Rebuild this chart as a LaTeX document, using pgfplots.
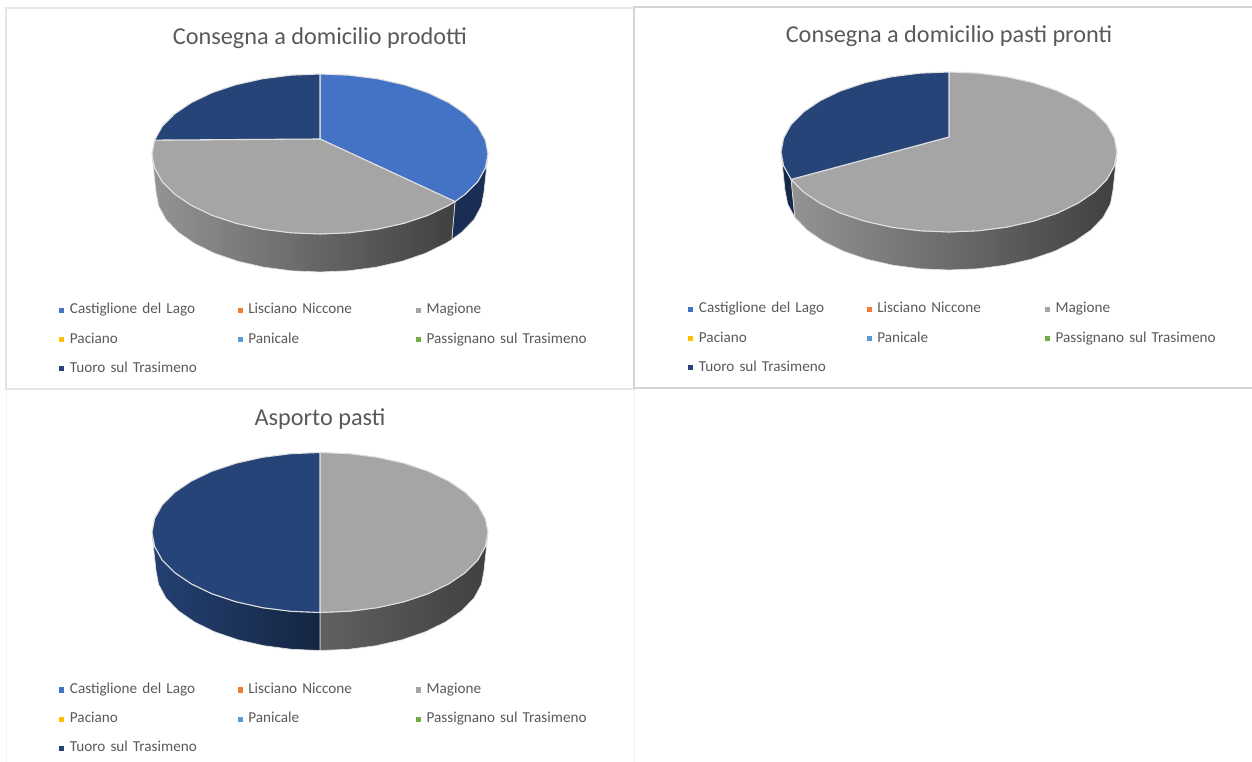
\documentclass[border=0pt]{standalone}
\usepackage{fontspec}
\setmainfont{Carlito}
\usepackage{pgfplots}
\pgfplotsset{compat=1.18}

\definecolor{cCast}{HTML}{4472C4}
\definecolor{cLisc}{HTML}{ED7D31}
\definecolor{cMag}{HTML}{A5A5A5}
\definecolor{cPac}{HTML}{FFC000}
\definecolor{cPan}{HTML}{5B9BD5}
\definecolor{cPass}{HTML}{70AD47}
\definecolor{cTuoro}{HTML}{264478}
\definecolor{txt}{HTML}{595959}
\definecolor{sliceline}{HTML}{E0E0E0}
\definecolor{castwall}{HTML}{1A2D55}

\pgfplotsset{
  top/.style={forget plot,draw=sliceline,line width=0.8pt,line join=round,fill=#1},
  wallgray/.style={forget plot,draw=sliceline,line width=0.5pt,left color=#1,right color=black!75},
  legend image code/.code={\fill[#1,draw=none] (0pt,-1.9pt) rectangle (3.8pt,1.9pt);},
  panel/.style={
    scale only axis,ticks=none,enlargelimits=false,
    title style={font=\fontsize{18.2}{21}\selectfont,text=txt,anchor=center,inner sep=0pt,yshift=0pt},
    legend columns=3,
    legend style={draw=none,fill=none,inner sep=0pt,at={(axis cs:-261,-150)},anchor=north west,
      row sep=12.5pt,font=\fontsize{11.4}{13}\selectfont,text=txt,
      nodes={inner sep=0pt,text height=7.2pt,text depth=2.2pt},
      /tikz/every even column/.append style={column sep=0pt,nodes={text width=125.75pt,align=left}},
      /tikz/every odd column/.append style={column sep=4.2pt}}
  }
}
\newcommand{\pieLegend}{%
  \addlegendimage{fill=cCast}\addlegendentry{Castiglione del Lago}
  \addlegendimage{fill=cLisc}\addlegendentry{Lisciano Niccone}
  \addlegendimage{fill=cMag}\addlegendentry{Magione}
  \addlegendimage{fill=cPac}\addlegendentry{Paciano}
  \addlegendimage{fill=cPan}\addlegendentry{Panicale}
  \addlegendimage{fill=cPass}\addlegendentry{Passignano sul Trasimeno}
  \addlegendimage{fill=cTuoro}\addlegendentry{Tuoro sul Trasimeno}
}

\begin{document}
\begin{tikzpicture}[x=1pt,y=1pt]
\useasboundingbox (0pt,0pt) rectangle (939pt,571.5pt);

% panel 3, faintest frame, goes first
\begin{axis}[panel,at={(4.5pt,-1.5pt)},anchor=south west,width=471pt,height=281.25pt,
  xmin=-314,xmax=314,ymin=-231.5,ymax=143.5,axis line style={color=black!5,line width=0.6pt},
  title={Asporto pasti},title style={at={(0.5,0.8983)}},legend style={at={(axis cs:-261,-151)}}]
\addplot[wallgray=black!62] coordinates {(0,-80) (29.2,-78.8) (57.5,-75.2) (84,-69.3) (108,-61.3) (128.7,-51.4) (145.5,-40) (157.9,-27.4) (165.4,-13.9) (168,0)
  (164,-38) (161.4,-51.9) (154.1,-65.4) (142,-78) (125.6,-89.4) (105.4,-99.3) (82,-107.3) (56.1,-113.2) (28.5,-116.8) (0,-118)} --cycle;
\addplot[forget plot,draw=sliceline,line width=0.5pt,left color=cTuoro!95!black,right color=cTuoro!55!black] coordinates {(-168,0) (-165.4,-13.9) (-157.9,-27.4) (-145.5,-40) (-128.7,-51.4) (-108,-61.3) (-84,-69.3) (-57.5,-75.2) (-29.2,-78.8) (0,-80)
  (0,-118) (-28.5,-116.8) (-56.1,-113.2) (-82,-107.3) (-105.4,-99.3) (-125.6,-89.4) (-142,-78) (-154.1,-65.4) (-161.4,-51.9) (-164,-38)} --cycle;
% Magione 50%
\addplot[top=cMag] coordinates {(0,80) (29.2,78.8) (57.5,75.2) (84,69.3) (108,61.3) (128.7,51.4) (145.5,40) (157.9,27.4) (165.4,13.9) (168,0)
  (165.4,-13.9) (157.9,-27.4) (145.5,-40) (128.7,-51.4) (108,-61.3) (84,-69.3) (57.5,-75.2) (29.2,-78.8) (0,-80)} --cycle;
% Tuoro 50%
\addplot[top=cTuoro] coordinates {(0,-80) (-29.2,-78.8) (-57.5,-75.2) (-84,-69.3) (-108,-61.3) (-128.7,-51.4) (-145.5,-40) (-157.9,-27.4) (-165.4,-13.9) (-168,0)
  (-165.4,13.9) (-157.9,27.4) (-145.5,40) (-128.7,51.4) (-108,61.3) (-84,69.3) (-57.5,75.2) (-29.2,78.8) (0,80)} --cycle;
\pieLegend
\end{axis}

% panel 1
\begin{axis}[panel,at={(4.5pt,279.75pt)},anchor=south west,width=471pt,height=285.75pt,
  xmin=-314,xmax=314,ymin=-235,ymax=146,axis line style={color=black!10,line width=0.8pt},
  title={Consegna a domicilio prodotti},title style={at={(0.5,0.9003)}}]
\addplot[forget plot,draw=sliceline,line width=0.5pt,fill=castwall] coordinates {(168,0) (165.4,-13.9) (157.9,-27.4) (145.5,-40) (135,-47.6)
  (131.8,-85.6) (142,-78) (154.1,-65.4) (161.4,-51.9) (164,-38)} --cycle;
\addplot[wallgray=black!42] coordinates {(-168,0) (-165.4,-13.9) (-157.9,-27.4) (-145.5,-40) (-128.7,-51.4) (-108,-61.3) (-84,-69.3) (-57.5,-75.2) (-29.2,-78.8) (0,-80)
  (29.2,-78.8) (57.5,-75.2) (84,-69.3) (108,-61.3) (128.7,-51.4) (135,-47.6)
  (131.8,-85.6) (125.6,-89.4) (105.4,-99.3) (82,-107.3) (56.1,-113.2) (28.5,-116.8) (0,-118)
  (-28.5,-116.8) (-56.1,-113.2) (-82,-107.3) (-105.4,-99.3) (-125.6,-89.4) (-142,-78) (-154.1,-65.4) (-161.4,-51.9) (-164,-38)} --cycle;
% Castiglione del Lago
\addplot[top=cCast] coordinates {(0,15) (0,80) (29.2,78.8) (57.5,75.2) (84,69.3) (108,61.3) (128.7,51.4) (145.5,40) (157.9,27.4) (165.4,13.9) (168,0)
  (165.4,-13.9) (157.9,-27.4) (145.5,-40) (135,-47.6)} --cycle;
% Magione
\addplot[top=cMag] coordinates {(0,15) (135,-47.6) (128.7,-51.4) (108,-61.3) (84,-69.3) (57.5,-75.2) (29.2,-78.8) (0,-80)
  (-29.2,-78.8) (-57.5,-75.2) (-84,-69.3) (-108,-61.3) (-128.7,-51.4) (-145.5,-40) (-157.9,-27.4) (-165.4,-13.9) (-168,0) (-165.4,13.9)} --cycle;
% Tuoro sul Trasimeno
\addplot[top=cTuoro] coordinates {(0,15) (-165.4,13.9) (-157.9,27.4) (-145.5,40) (-128.7,51.4) (-108,61.3) (-84,69.3) (-57.5,75.2) (-29.2,78.8) (0,80)} --cycle;
\pieLegend
\end{axis}

% panel 2
\begin{axis}[panel,at={(475.5pt,280.5pt)},anchor=south west,width=465pt,height=285.75pt,
  xmin=-315,xmax=305,ymin=-236,ymax=145,axis line style={color=black!17,line width=0.8pt},
  title={Consegna a domicilio pasti pronti},title style={at={(0.5081,0.9028)}},legend style={at={(axis cs:-261,-151)}}]
\addplot[forget plot,draw=sliceline,line width=0.5pt,fill=cTuoro!60!black] coordinates {(-168,0) (-165.4,-13.9) (-157.9,-27.4) (-154.1,-65.4) (-161.4,-51.9) (-164,-38)} --cycle;
\addplot[wallgray=black!42] coordinates {(-157.9,-27.4) (-145.5,-40) (-128.7,-51.4) (-108,-61.3) (-84,-69.3) (-57.5,-75.2) (-29.2,-78.8) (0,-80)
  (29.2,-78.8) (57.5,-75.2) (84,-69.3) (108,-61.3) (128.7,-51.4) (145.5,-40) (157.9,-27.4) (165.4,-13.9) (168,0)
  (164,-38) (161.4,-51.9) (154.1,-65.4) (142,-78) (125.6,-89.4) (105.4,-99.3) (82,-107.3) (56.1,-113.2) (28.5,-116.8) (0,-118)
  (-28.5,-116.8) (-56.1,-113.2) (-82,-107.3) (-105.4,-99.3) (-125.6,-89.4) (-142,-78) (-154.1,-65.4)} --cycle;
% Magione
\addplot[top=cMag] coordinates {(0,15) (0,80) (29.2,78.8) (57.5,75.2) (84,69.3) (108,61.3) (128.7,51.4) (145.5,40) (157.9,27.4) (165.4,13.9) (168,0)
  (165.4,-13.9) (157.9,-27.4) (145.5,-40) (128.7,-51.4) (108,-61.3) (84,-69.3) (57.5,-75.2) (29.2,-78.8) (0,-80)
  (-29.2,-78.8) (-57.5,-75.2) (-84,-69.3) (-108,-61.3) (-128.7,-51.4) (-145.5,-40) (-157.9,-27.4)} --cycle;
% Tuoro sul Trasimeno
\addplot[top=cTuoro] coordinates {(0,15) (-157.9,-27.4) (-165.4,-13.9) (-168,0) (-165.4,13.9) (-157.9,27.4) (-145.5,40) (-128.7,51.4) (-108,61.3) (-84,69.3) (-57.5,75.2) (-29.2,78.8) (0,80)} --cycle;
\pieLegend
\end{axis}
\end{tikzpicture}
\end{document}
